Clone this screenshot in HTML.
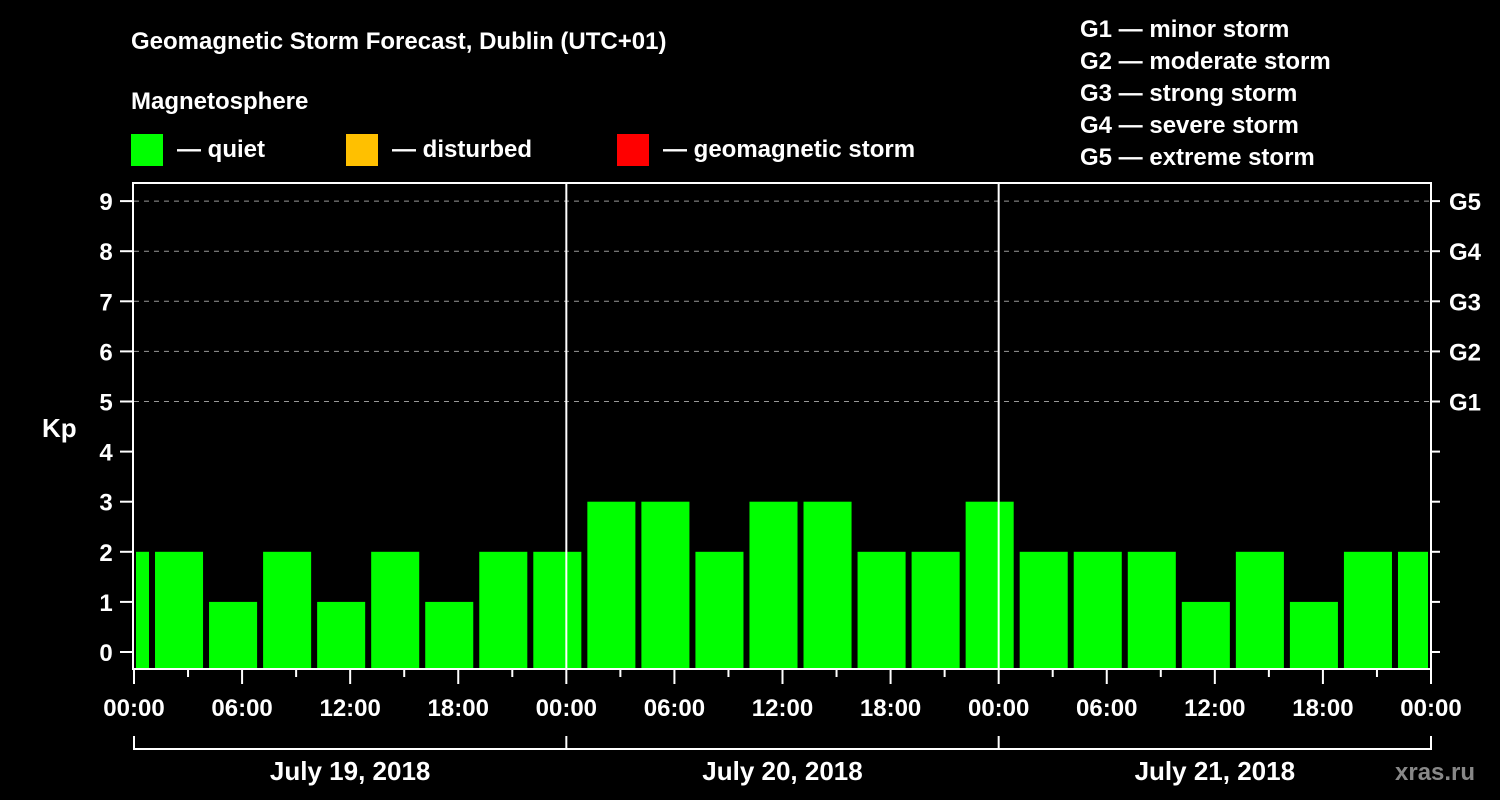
<!DOCTYPE html>
<html><head><meta charset="utf-8"><style>
html,body{margin:0;padding:0;background:#000;}
svg{display:block;font-family:"Liberation Sans",Arial,sans-serif;font-weight:bold;}
</style></head><body>
<svg id="chart" width="1500" height="800" viewBox="0 0 1500 800">
<rect width="1500" height="800" fill="#000"/>
<text x="131" y="49" fill="#fff" font-size="24">Geomagnetic Storm Forecast, Dublin (UTC+01)</text>
<text x="131" y="109" fill="#fff" font-size="24">Magnetosphere</text>
<rect x="131" y="134" width="32" height="32" fill="#00ff00"/>
<text x="177" y="157" fill="#fff" font-size="24">— quiet</text>
<rect x="346" y="134" width="32" height="32" fill="#ffc000"/>
<text x="392" y="157" fill="#fff" font-size="24">— disturbed</text>
<rect x="617" y="134" width="32" height="32" fill="#ff0000"/>
<text x="663" y="157" fill="#fff" font-size="24">— geomagnetic storm</text>
<g fill="#fff" font-size="24">
<text x="1080" y="37">G1 — minor storm</text>
<text x="1080" y="69">G2 — moderate storm</text>
<text x="1080" y="101">G3 — strong storm</text>
<text x="1080" y="133">G4 — severe storm</text>
<text x="1080" y="165">G5 — extreme storm</text>
</g>
<text x="42" y="437" fill="#fff" font-size="26">Kp</text>
<g id="grid"></g>
<g id="bars"></g>
<g id="axes"></g>
<text x="1395" y="780" fill="#888" font-size="24">xras.ru</text>
</svg>
<script>
const kpValues = [2, 2,1,2,1,2,1,2,2, 3,3,2,3,3,2,2,3, 2,2,2,1,2,1,2,2];
const slotHours = [-2, 1,4,7,10,13,16,19,22, 25,28,31,34,37,40,43,46, 49,52,55,58,61,64,67,70];
const yTicks = [0,1,2,3,4,5,6,7,8,9];
const gLabels = ["G1","G2","G3","G4","G5"];
const gLevels = [5,6,7,8,9];
const xTickLabels = ["00:00","06:00","12:00","18:00","00:00","06:00","12:00","18:00","00:00","06:00","12:00","18:00","00:00"];
const dayLabels = ["July 19, 2018","July 20, 2018","July 21, 2018"];

const NS="http://www.w3.org/2000/svg";
const X0=134, X1=1431, Y0=183, YB=669;
const totalH=72;
const xs=h=>X0+(X1-X0)*h/totalH;
const ys=v=>652-v*50.1;
function mk(tag,attrs,parent){const e=document.createElementNS(NS,tag);for(const k in attrs)e.setAttribute(k,attrs[k]);parent.appendChild(e);return e;}
const grid=document.getElementById('grid'),bars=document.getElementById('bars'),axes=document.getElementById('axes');
gLevels.forEach((v,i)=>{
  const l=mk('line',{x1:X0,x2:X1,y1:ys(v),y2:ys(v),stroke:'#999','stroke-width':1,'stroke-dasharray':'5,5'},grid);
  
  
  const t=mk('text',{x:1449,y:ys(v)+9,fill:'#fff','font-size':24},axes);t.textContent=gLabels[i];
  
  
});
kpValues.forEach((v,i)=>{
  const s=xs(slotHours[i]);
  let a=Math.max(s+3,X0+2), b=Math.min(s+54*1-3+0,X1-3);
  b=Math.min(s+xs(3)-X0-3,X1-3);
  const r=mk('rect',{x:a,y:ys(v),width:b-a,height:YB-1-ys(v),fill:'#00ff00'},bars);
  
  
});
// frame
mk('rect',{x:X0-1,y:Y0,width:X1-X0+1,height:YB-Y0,fill:'none',stroke:'#fff','stroke-width':2},axes);
[24,48].forEach(h=>{const l=mk('line',{x1:xs(h),x2:xs(h),y1:Y0,y2:YB,stroke:'#fff','stroke-width':2},axes);
  
  });
yTicks.forEach(v=>{
  mk('line',{x1:X0-14,x2:X0,y1:ys(v),y2:ys(v),stroke:'#fff','stroke-width':2},axes);
  mk('line',{x1:X1,x2:X1+9,y1:ys(v),y2:ys(v),stroke:'#fff','stroke-width':2},axes);
  const t=mk('text',{x:106,y:ys(v)+9,fill:'#fff','font-size':24,'text-anchor':'middle'},axes);t.textContent=v;
  
  
});
for(let h=0;h<=totalH;h+=3){
  const major=h%6===0;
  mk('line',{x1:xs(h),x2:xs(h),y1:YB,y2:YB+(major?15:8),stroke:'#fff','stroke-width':2},axes);
}
xTickLabels.forEach((lab,i)=>{
  const t=mk('text',{x:xs(i*6),y:716,fill:'#fff','font-size':24,'text-anchor':'middle'},axes);t.textContent=lab;
  
  
});
mk('path',{d:`M${X0},736V749H${X1}V736`,fill:'none',stroke:'#fff','stroke-width':2},axes);
[24,48].forEach(h=>mk('line',{x1:xs(h),x2:xs(h),y1:736,y2:749,stroke:'#fff','stroke-width':2},axes));
dayLabels.forEach((d,i)=>{
  const t=mk('text',{x:xs(i*24+12),y:780,fill:'#fff','font-size':26,'text-anchor':'middle'},axes);t.textContent=d;
  
  
});
</script>
</body></html>
